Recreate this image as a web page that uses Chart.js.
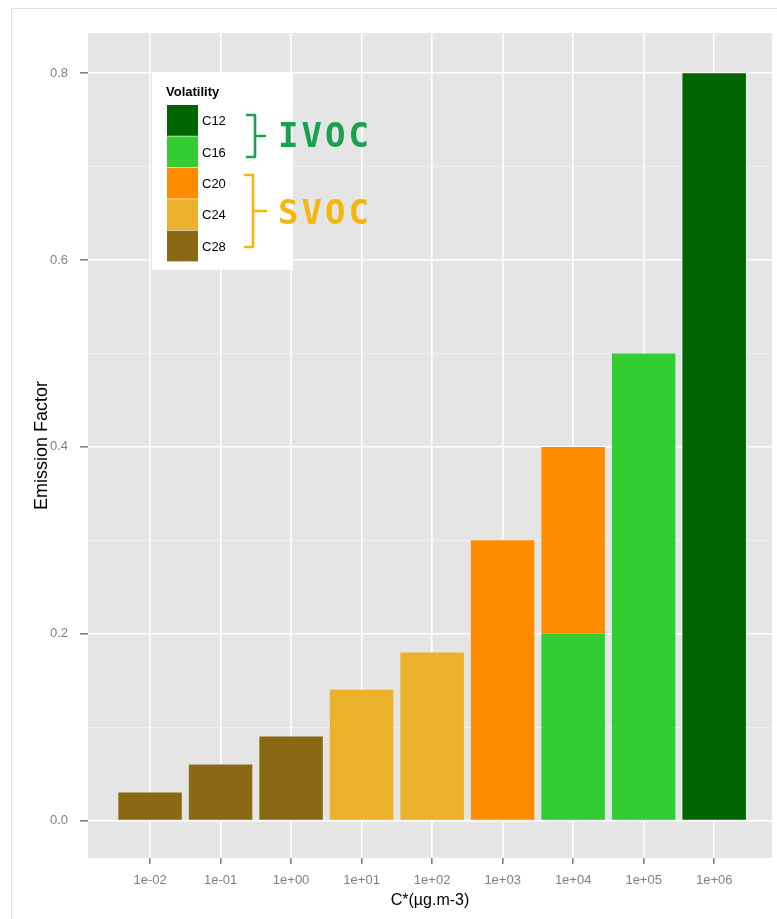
<!DOCTYPE html>
<html>
<head>
<meta charset="utf-8">
<title>Emission Factor by volatility</title>
<script src="https://cdn.jsdelivr.net/npm/chart.js@4.4.0/dist/chart.umd.min.js"></script>
<style>
  html, body { margin: 0; padding: 0; background: #fff; }
  #wrap { position: relative; width: 777px; height: 919px; }
</style>
</head>
<body>
<div id="wrap"><canvas id="chart"></canvas></div>
<script>
// saturation concentration bins (x axis)
const concLabels = ['1e-02', '1e-01', '1e+00', '1e+01', '1e+02', '1e+03', '1e+04', '1e+05', '1e+06'];

// volatility classes and their fills
const volClasses = ['C12', 'C16', 'C20', 'C24', 'C28'];
const volColors = ['#006400', '#32cd32', '#ff8c00', '#ebb12a', '#8b6914'];

// emission factor per bin, one array per class (null = not present)
const c12 = [null, null, null, null, null, null, null, null, 0.80];
const c16 = [null, null, null, null, null, null, 0.20, 0.50, null];
const c20 = [null, null, null, null, null, 0.30, 0.20, null, null];
const c24 = [null, null, null, 0.14, 0.18, null, null, null, null];
const c28 = [0.03, 0.06, 0.09, null, null, null, null, null, null];

const yMajor = [0, 0.2, 0.4, 0.6, 0.8];
const yMinor = [0.1, 0.3, 0.5, 0.7];

const seriesValues = [c12, c16, c20, c24, c28];

const isMajor = v => yMajor.some(m => Math.abs(m - v) < 1e-9);

const datasets = volClasses.map((name, k) => ({
  label: name,
  data: seriesValues[k].map((v, i) => ({ x: i, y: v })),
  backgroundColor: volColors[k],
  borderWidth: 0,
  barPercentage: 0.9,
  categoryPercentage: 1.0,
}));

// grey panel + outer frame, ggplot style
const panelPlugin = {
  id: 'panel',
  beforeDraw(chart) {
    const { ctx, chartArea: a } = chart;
    ctx.save();
    ctx.fillStyle = '#e5e5e5';
    ctx.fillRect(a.left, a.top, a.right - a.left, a.bottom - a.top);
    ctx.strokeStyle = '#dddddd';
    ctx.lineWidth = 1;
    ctx.beginPath();
    ctx.moveTo(11.5, 919);
    ctx.lineTo(11.5, 8.5);
    ctx.lineTo(777, 8.5);
    ctx.stroke();
    ctx.restore();
  }
};

// legend box inside the panel, plus the IVOC / SVOC brackets
const legendPlugin = {
  id: 'insideLegend',
  afterDraw(chart) {
    const { ctx } = chart;
    const ds = chart.data.datasets;
    const boxX = 152, boxY = 73, boxW = 141, boxH = 197;
    const swX = 167, swY = 105, swW = 31, rowH = 31.4;
    ctx.save();
    ctx.fillStyle = '#ffffff';
    ctx.fillRect(boxX, boxY, boxW, boxH);

    ctx.fillStyle = '#000';
    ctx.font = 'bold 13px "Liberation Sans", Arial, sans-serif';
    ctx.textBaseline = 'middle';
    ctx.textAlign = 'left';
    ctx.fillText('Volatility', 166, 92);

    ctx.font = '13px "Liberation Sans", Arial, sans-serif';
    ds.forEach((d, i) => {
      const y = swY + i * rowH;
      ctx.fillStyle = d.backgroundColor;
      ctx.fillRect(swX, y, swW, rowH - 0.6);
      ctx.fillStyle = '#000';
      ctx.fillText(d.label, 202, y + rowH / 2 + 1);
    });

    // brackets
    const bracket = (x, y0, y1, tip, color) => {
      const ym = (y0 + y1) / 2;
      ctx.strokeStyle = color;
      ctx.lineWidth = 2.6;
      ctx.lineJoin = 'round';
      ctx.lineCap = 'round';
      ctx.beginPath();
      ctx.moveTo(x - 8, y0);
      ctx.lineTo(x, y0);
      ctx.lineTo(x, y1);
      ctx.lineTo(x - 8, y1);
      ctx.moveTo(x, ym);
      ctx.lineTo(tip, ym);
      ctx.stroke();
    };
    bracket(255, 115, 157, 265, '#1aa04f');
    bracket(253, 175, 247, 266, '#f6b60c');

    ctx.font = 'bold 34px "DejaVu Sans Mono", monospace';
    ctx.letterSpacing = '3px';
    ctx.textBaseline = 'alphabetic';
    ctx.fillStyle = '#1aa04f';
    ctx.fillText('IVOC', 278, 147);
    ctx.fillStyle = '#f6b60c';
    ctx.fillText('SVOC', 278, 224);
    ctx.restore();
  }
};

new Chart(document.getElementById('chart'), {
  type: 'bar',
  data: { datasets },
  options: {
    responsive: true,
    maintainAspectRatio: false,
    animation: false,
    layout: { padding: { left: 0, top: 33, right: 5, bottom: 0 } },
    plugins: {
      legend: { display: false },
      tooltip: { enabled: false },
    },
    scales: {
      x: {
        type: 'linear',
        stacked: true,
        offset: false,
        min: -0.88,
        max: 8.82,
        afterBuildTicks: scale => {
          scale.ticks = concLabels.map((_, i) => ({ value: i }));
        },
        afterFit: scale => { scale.height = 61; },
        border: { display: false },
        grid: {
          offset: false,
          color: '#ffffff',
          lineWidth: 1.6,
          tickColor: '#808080',
          tickLength: 6,
        },
        ticks: {
          color: '#808080',
          font: { family: '"Liberation Sans", Arial, sans-serif', size: 13 },
          padding: 9,
          maxRotation: 0,
          autoSkip: false,
          callback: v => concLabels[v],
        },
        title: {
          display: true,
          text: 'C*(µg.m-3)',
          color: '#000',
          font: { family: '"Liberation Sans", Arial, sans-serif', size: 16 },
          padding: { top: 0, bottom: 9 },
        },
      },
      y: {
        stacked: true,
        min: -0.04,
        max: 0.843,
        afterBuildTicks: scale => {
          scale.ticks = [...yMajor, ...yMinor].sort((a, b) => a - b).map(v => ({ value: v }));
        },
        afterFit: scale => { scale.width = 88; },
        border: { display: false },
        grid: {
          color: c => isMajor(c.tick.value) ? '#ffffff' : '#f2f2f2',
          lineWidth: c => isMajor(c.tick.value) ? 1.6 : 0.8,
          tickColor: c => isMajor(c.tick.value) ? '#808080' : 'rgba(0,0,0,0)',
          tickLength: 8,
        },
        ticks: {
          color: '#808080',
          font: { family: '"Liberation Sans", Arial, sans-serif', size: 13 },
          padding: 12,
          autoSkip: false,
          callback: v => isMajor(v) ? v.toFixed(1) : '',
        },
        title: {
          display: true,
          text: 'Emission Factor',
          color: '#000',
          font: { family: '"Liberation Sans", Arial, sans-serif', size: 18 },
          padding: { top: 31, bottom: 0 },
        },
      },
    },
  },
  plugins: [panelPlugin, legendPlugin],
});
</script>
</body>
</html>
